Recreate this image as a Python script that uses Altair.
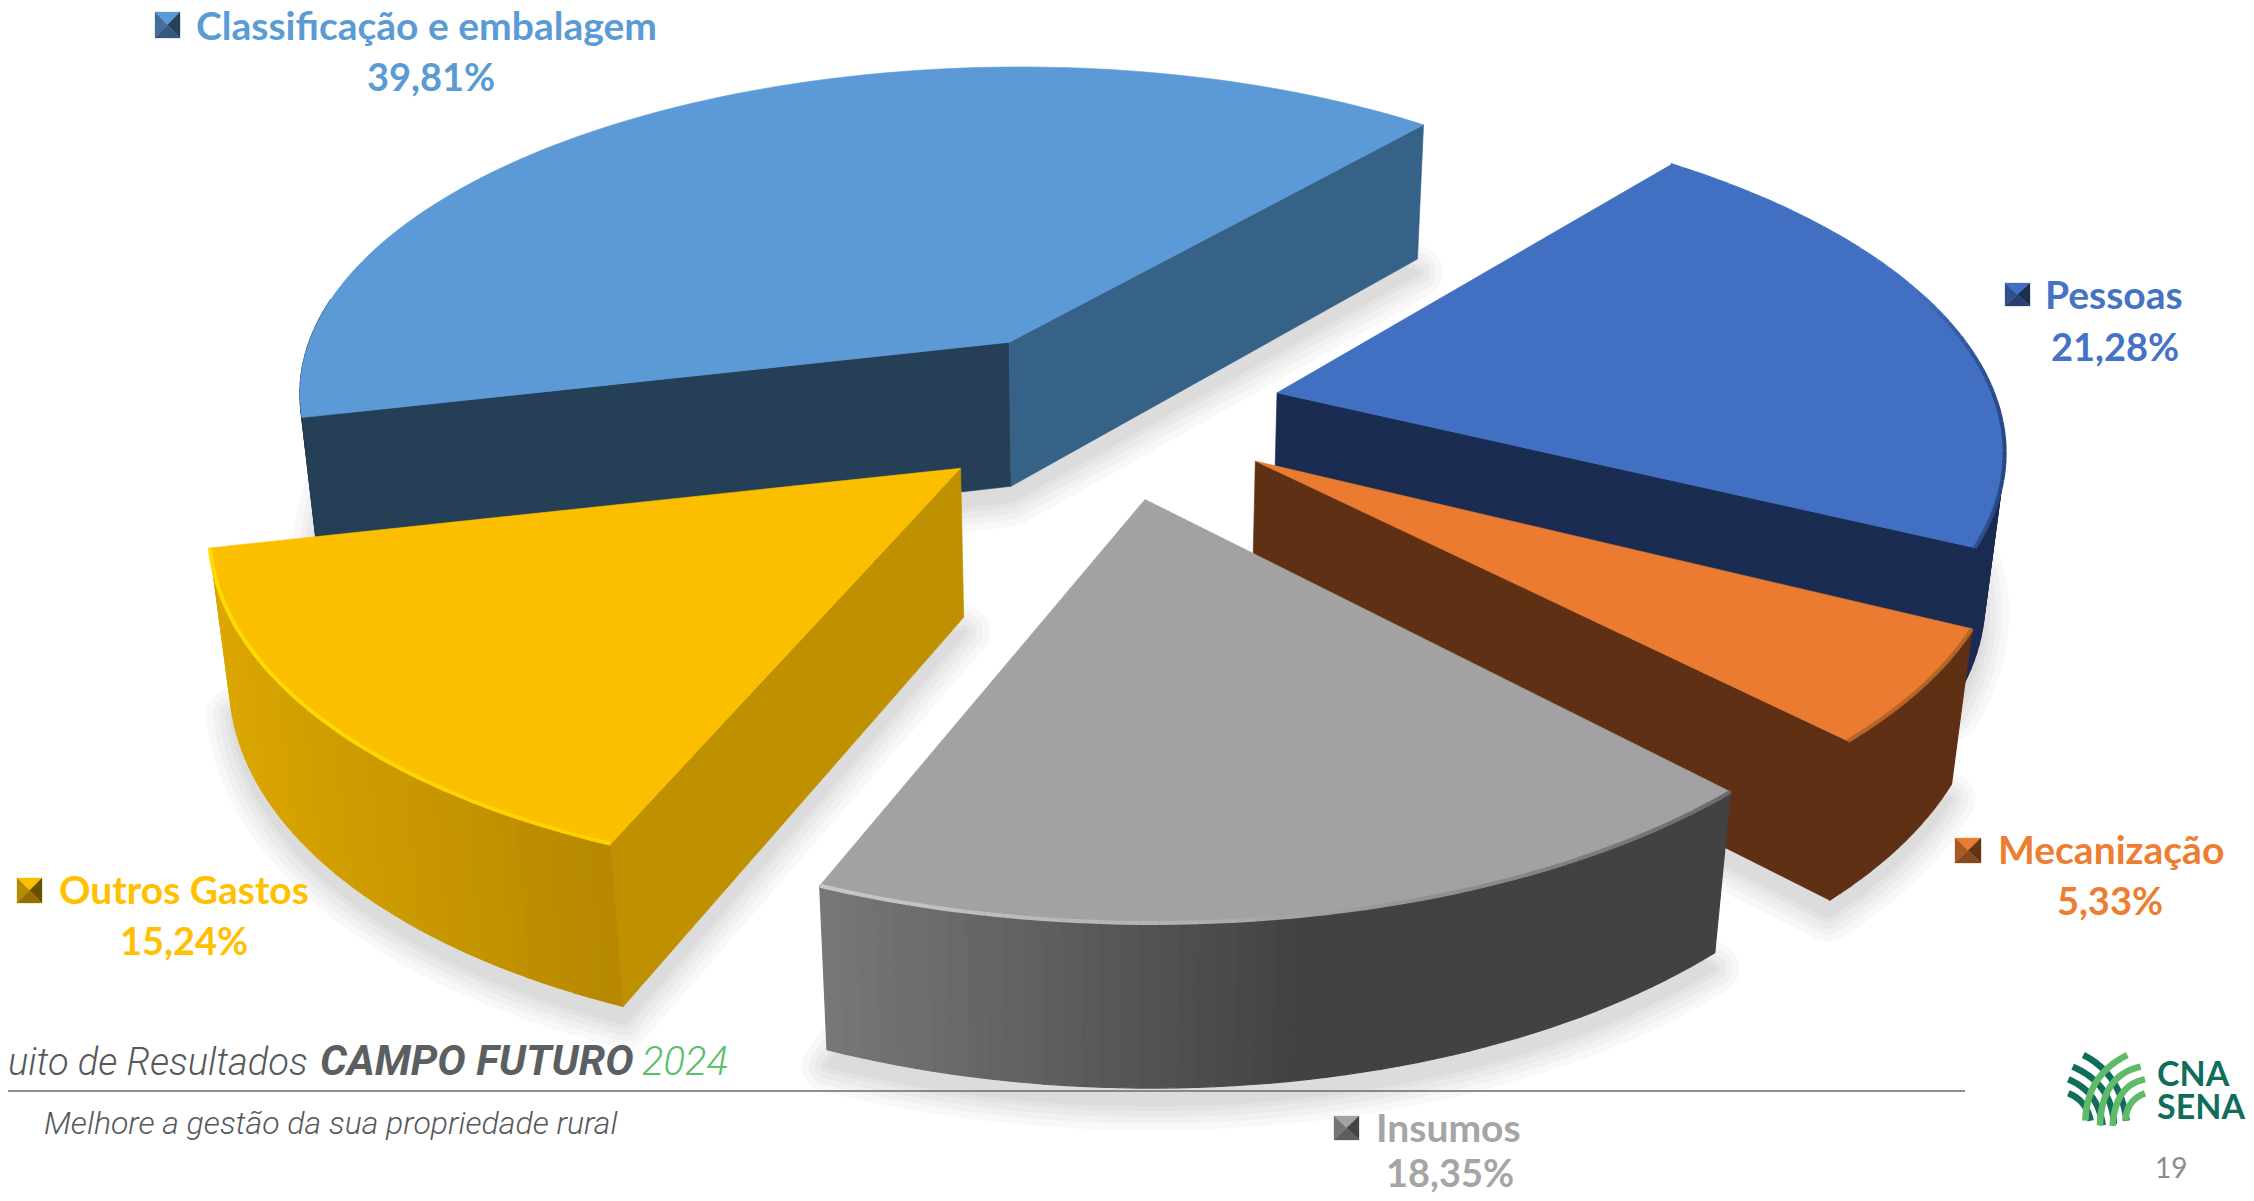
import math
import altair as alt

# ---- data
CATEGORIES = ["Pessoas", "Mecanização", "Insumos", "Outros Gastos", "Classificação e embalagem"]
SHARES = [21.28, 5.33, 18.35, 15.24, 39.81]
SHARE_TEXT = ["21,28%", "5,33%", "18,35%", "15,24%", "39,81%"]
TOP_COLORS = ["#4170c2", "#ea7b30", "#a2a2a2", "#fbbf00", "#5b9ad6"]
LABEL_COLORS = ["#4472c4", "#ed7d31", "#a5a5a5", "#ffc000", "#5b9bd5"]
WALL_COLORS = ["#1a2c52", "#5f3013", "#555555", "#c99700", "#243f56"]

# ---- layout (reference pixels)
W, H = 2238, 1185
OFF = 8
START = -49.4          # first boundary, degrees clockwise from east
EXPLODE = [0.25, 0.27, 0.29, 0.25, 0.25]
NUDGE = [(0, -1.8), (-7, -5.3), (3, -11), (0, 1.1), (-0.8, -0.8)]  # px nudge of each slice
ROTATE = [-1.0, -0.5, 0.0, 0.0, -0.7]
CX, CY, A, B, D = 1102, 412, 722, 334, 150
PERSP, PERSP_Z = 0.145, 0.022
DRAW_ORDER = [4, 0, 1, 3, 2]
RADIAL_WALLS = {4: [("s", "#243f56"), ("e", "#366288")], 0: [("e", "#1a2c52")],
                1: [("e", "#5f3013")], 3: [("s", "#bf9000")], 2: []}
STOPS = {3: [(211, "#dba600"), (620, "#b58700")],
         2: [(820, "#787878"), (1300, "#424242"), (1730, "#424242")]}
RIMS = {3: [(211, "#ffdc00"), (620, "#ffd000")],
        2: [(820, "#c8c8c8"), (1200, "#b0b0b0"), (1500, "#8a8a8a"), (1730, "#6a6a6a")],
        1: [(1700, "#b5652a"), (2000, "#b5652a")],
        0: [(1900, "#4170c2"), (2010, "#24407a")]}


def hex2rgb(c):
    return [int(c[i:i + 2], 16) for i in (1, 3, 5)]


def lerp_stops(stops, x):
    if x <= stops[0][0]:
        return stops[0][1]
    for (x0, c0), (x1, c1) in zip(stops, stops[1:]):
        if x <= x1:
            t = (x - x0) / (x1 - x0)
            a, b = hex2rgb(c0), hex2rgb(c1)
            return "#%02x%02x%02x" % tuple(round(p + (q - p) * t) for p, q in zip(a, b))
    return stops[-1][1]


def darker(c, k):
    return "#%02x%02x%02x" % tuple(round(v * k) for v in hex2rgb(c))


def project(u, v, z=0.0):
    w = 1 - PERSP * v + PERSP_Z * z
    return [round(CX + A * u / w - OFF, 2), round(CY + (B * v + D * z) / w - OFF, 2)]


features = []


def poly(points, fill, stroke=None, sw=0.6, op=1.0):
    features.append({"type": "Feature", "properties": {"f": fill, "s": stroke or fill, "w": sw, "o": op},
                     "geometry": {"type": "Polygon", "coordinates": [points + [points[0]]]}})


def line(points, stroke, sw, op=1.0):
    features.append({"type": "Feature", "properties": {"f": "transparent", "s": stroke, "w": sw, "o": op},
                     "geometry": {"type": "LineString", "coordinates": points}})


# ---- slice geometry from the shares
total = sum(SHARES)
angles = [START]
for s in SHARES:
    angles.append(angles[-1] + 360 * s / total)

slices = []
for i in range(len(SHARES)):
    a0, a1 = angles[i] + ROTATE[i], angles[i + 1] + ROTATE[i]
    mid = math.radians((a0 + a1) / 2)
    ou = EXPLODE[i] * math.cos(mid) + NUDGE[i][0] / A
    ov = EXPLODE[i] * math.sin(mid) + NUDGE[i][1] / B
    n = max(12, int((a1 - a0) * 0.8))
    arc = []
    for k in range(n + 1):
        t = math.radians(a0 + (a1 - a0) * k / n)
        arc.append((ou + math.cos(t), ov + math.sin(t)))
    slices.append({"apex": (ou, ov), "arc": arc})

# soft shadows first
for i in DRAW_ORDER:
    sl = slices[i]
    outline = [project(*sl["apex"], 1.10)] + [project(u, v, 1.10) for u, v in sl["arc"]]
    for sw in (52, 38, 26, 14, 5):
        poly(outline, "#000000", "#000000", sw, 0.022)

# faces, back to front
for i in DRAW_ORDER:
    sl = slices[i]
    arc, apex = sl["arc"], sl["apex"]
    stops = STOPS.get(i)
    for (u0, v0), (u1, v1) in zip(arc, arc[1:]):
        if v0 - apex[1] < -0.12:   # the far part of the rim wall cannot be seen
            continue
        x = project(u0, v0)[0]
        col = lerp_stops(stops, x) if stops else WALL_COLORS[i]
        poly([project(u0, v0), project(u1, v1), project(u1, v1, 1), project(u0, v0, 1)], col, sw=1.2)
    for which, col in RADIAL_WALLS[i]:
        e = arc[0] if which == "s" else arc[-1]
        poly([project(*apex), project(*e), project(*e, 1), project(*apex, 1)], col)
    top = [project(*apex)] + [project(u, v) for u, v in arc]
    poly(top, TOP_COLORS[i])
    if i in RIMS:
        for (u0, v0), (u1, v1) in zip(arc, arc[1:]):
            p0, p1 = project(u0, v0), project(u1, v1)
            line([p0, p1], lerp_stops(RIMS[i], p0[0]), 4)

# legend keys (bevelled squares)
KEYS = [(2005, 283, 2030, 306), (1955, 838, 1981, 863), (1334, 1116, 1359, 1140),
        (17, 878, 42, 903), (155, 12, 180, 38)]
for (x0, y0, x1, y1), c in zip(KEYS, TOP_COLORS):
    x0, y0, x1, y1 = x0 - OFF, y0 - OFF, x1 - OFF, y1 - OFF
    m = [(x0 + x1) / 2, (y0 + y1) / 2]
    poly([[x0, y0], [x1, y0], m], c, sw=0.3)
    poly([[x0, y0], [x0, y1], m], darker(c, 0.72), sw=0.3)
    poly([[x1, y0], [x1, y1], m], darker(c, 0.42), sw=0.3)
    poly([[x0, y1], [x1, y1], m], darker(c, 0.58), sw=0.3)

# footer rule
line([[0, 1091 - OFF], [1965 - OFF, 1091 - OFF]], "#6a6a6a", 1.6)

# logo
LOGO_DARK = [[(310, 165), (420, 220), (440, 362)], [(278, 200), (395, 250), (402, 372)],
             [(265, 238), (355, 275), (368, 376)], [(265, 280), (318, 300), (332, 362)]]
LOGO_LIGHT = [[(442, 165), (320, 225), (316, 362)], [(482, 200), (365, 225), (360, 376)],
              [(495, 238), (405, 255), (398, 378)], [(495, 280), (440, 300), (436, 362)]]
for arcs, col in ((LOGO_DARK, "#116d5b"), (LOGO_LIGHT, "#5fbb68")):
    for (p0, p1, p2) in arcs:
        pts = []
        for k in range(25):
            t = k / 24
            zx = (1 - t) ** 2 * p0[0] + 2 * t * (1 - t) * p1[0] + t ** 2 * p2[0]
            zy = (1 - t) ** 2 * p0[1] + 2 * t * (1 - t) * p1[1] + t ** 2 * p2[1]
            pts.append([round(1980 + zx / 3 - OFF, 2), round(1000 + zy / 3 - OFF, 2)])
        line(pts, col, 6.5)

geo = (
    alt.Chart(alt.InlineData(values={"type": "FeatureCollection", "features": features},
                             format=alt.DataFormat(property="features", type="json")))
    .mark_geoshape(strokeJoin="round", strokeCap="butt")
    .encode(
        fill=alt.Fill("properties.f:N", scale=None, legend=None),
        stroke=alt.Stroke("properties.s:N", scale=None, legend=None),
        strokeWidth=alt.StrokeWidth("properties.w:Q", scale=None, legend=None),
        opacity=alt.Opacity("properties.o:Q", scale=None, legend=None),
    )
    .project(type="identity", scale=1, translate=[0, 0])
)


def text(t, x, y, size, color, font="Lato", weight="bold", align="left", style="normal"):
    return (
        alt.Chart(alt.Data(values=[{"t": t}]))
        .mark_text(font=font, fontSize=size, fontWeight=weight, fontStyle=style, color=color,
                   align=align, baseline="alphabetic")
        .encode(text="t:N", x=alt.value(x - OFF), y=alt.value(y - OFF))
    )


# category label: left x, baseline; share label: centre x, baseline
LABEL_POS = [(2045, 309, 2115, 361), (1998, 864, 2110, 915), (1376, 1142, 1450, 1187),
             (59, 904, 184, 955), (196, 40, 431, 91)]
layers = [geo]
for cat, pct, col, (lx, ly, px, py) in zip(CATEGORIES, SHARE_TEXT, LABEL_COLORS, LABEL_POS):
    layers.append(text(cat, lx, ly, 39, col))
    layers.append(text(pct, px, py, 38, col, align="center"))

FOOT = "Roboto"
layers += [
    text("uito de Resultados", 8, 1075, 38, "#55595b", font=FOOT, weight=300, style="italic"),
    text("CAMPO FUTURO", 320, 1075, 42.5, "#5b5f61", font=FOOT, weight="bold", style="italic"),
    text("2024", 642, 1075, 40, "#5cbf6c", font=FOOT, weight=300, style="italic"),
    text("Melhore a gestão da sua propriedade rural", 44, 1134, 32, "#55595b", font=FOOT, weight=300, style="italic"),
    text("CNA", 2157, 1086, 34, "#116d5b"),
    text("SENA", 2157, 1119, 34, "#116d5b"),
    text("19", 2155, 1178, 28, "#8c8c8c", weight="normal"),
]

chart = (
    alt.layer(*layers)
    .properties(width=W, height=H, padding=0, background="white",
                autosize=alt.AutoSizeParams(type="none"))
    .configure_view(stroke=None)
)
chart.save("out.html", embed_options={"renderer": "svg", "actions": False})
